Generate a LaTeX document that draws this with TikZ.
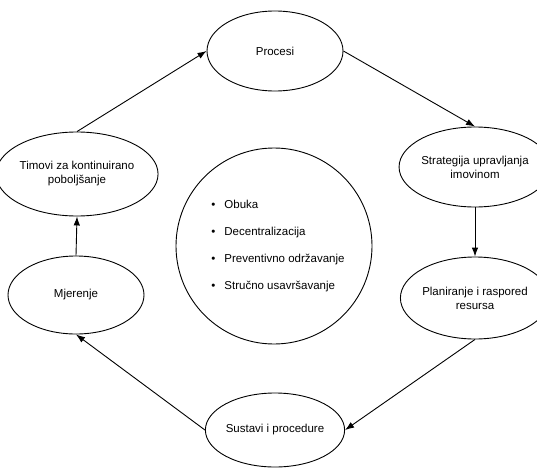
\documentclass[tikz,border=0pt]{standalone}
\usepackage{fontspec}
\setmainfont{Liberation Sans}
\usepackage{tikz}
\usetikzlibrary{arrows.meta,shapes.geometric}

\begin{document}
\begin{tikzpicture}[x=1pt,y=-1pt]
        \tikzset{stage/.style = {shape=ellipse,draw,line width=0.9pt,inner sep=0pt,minimum width=136pt,minimum height=80pt,align=center,font=\fontsize{11.5}{14}\selectfont}}
        \tikzset{hub/.style = {shape=circle,draw,line width=0.9pt,inner sep=0pt,minimum size=196pt,font=\fontsize{11.5}{14}\selectfont}}
        \tikzset{edged/.style = {->,> = {Latex[length=9pt,width=6.5pt]}, line width=0.9pt}}
        \useasboundingbox (0,0) rectangle (537,468);
        % vertices
        \node[stage] (procesi) at (275,51) {Procesi};
        \node[stage] (strategija) at (475,167) {Strategija upravljanja\\imovinom};
        \node[stage,minimum height=82pt] (planiranje) at (475,298) {Planiranje i raspored\\resursa};
        \node[stage,minimum height=74pt] (sustavi) at (275,430) {Sustavi i procedure};
        \node[stage,minimum height=78pt] (mjerenje) at (76,295) {Mjerenje};
        \node[stage,minimum height=84pt] (timovi) at (77,174) {Timovi za kontinuirano\\poboljšanje};
        \node[hub] (mjere) at (274,246) {\hspace{8pt}%
          \begin{tabular}{@{}l@{\hspace{9pt}}l@{}}
            \textbullet & Obuka\\[13pt]
            \textbullet & Decentralizacija\\[13pt]
            \textbullet & Preventivno održavanje\\[13pt]
            \textbullet & Stručno usavršavanje
          \end{tabular}};

        %edges directed
        \draw[edged] (timovi.north) to (procesi.west);
        \draw[edged] (procesi.east) to (strategija.north);
        \draw[edged] (strategija.south) to (planiranje.north);
        \draw[edged] (planiranje.south) to (sustavi.east);
        \draw[edged] (sustavi.west) to (mjerenje.south);
        \draw[edged] (mjerenje.north) to (timovi.south);
        \end{tikzpicture}
\end{document}
